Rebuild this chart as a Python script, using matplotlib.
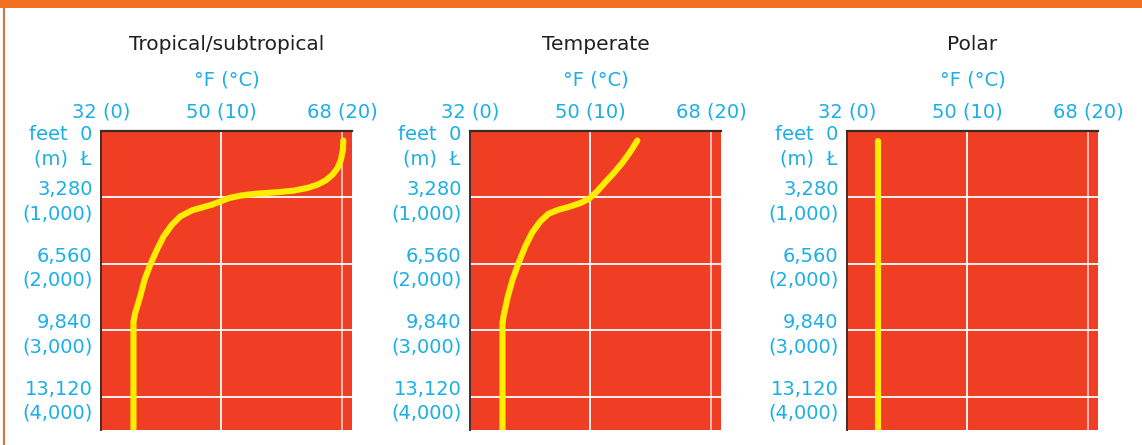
import matplotlib
matplotlib.use("Agg")
import matplotlib.pyplot as plt
from matplotlib.patches import Rectangle
from matplotlib.lines import Line2D
import matplotlib.transforms as mtransforms

# === Data (temperature in °F vs depth in metres) ===
panel_titles = ["Tropical/subtropical", "Temperate", "Polar"]

tropical_depth_m = [143, 279, 430, 555, 656, 742, 807, 857, 897, 917, 932, 947, 970, 1007,
                    1108, 1194, 1285, 1410, 1586, 1787, 2013, 2239, 2491, 2742, 2873, 4500]
tropical_temp_f = [68.2, 68.15, 67.85, 67.35, 66.6, 65.6, 64.35, 62.85, 60.85, 58.85, 56.85,
                   54.85, 53.0, 51.2, 48.6, 45.6, 43.85, 42.6, 41.35, 40.35, 39.35, 38.5,
                   37.85, 37.1, 36.85, 36.85]

temperate_depth_m = [143, 305, 480, 630, 766, 908, 1018, 1080, 1143, 1184, 1244, 1360, 1535,
                     1737, 1988, 2239, 2491, 2793, 2900, 4500]
temperate_temp_f = [57.0, 56.0, 54.75, 53.5, 52.25, 51.0, 49.8, 48.6, 46.75, 45.25, 43.75,
                    42.5, 41.25, 40.25, 39.25, 38.35, 37.65, 37.0, 36.85, 36.85]

polar_depth_m = [143, 4500]
polar_temp_f = [36.7, 36.7]

x_ticks = [32, 50, 68]
x_labels = ["32 (0)", "50 (10)", "68 (20)"]
y_ticks = [1000, 2000, 3000, 4000]
y_labels = ["3,280\n(1,000)", "6,560\n(2,000)", "9,840\n(3,000)", "13,120\n(4,000)"]

profiles = [(tropical_temp_f, tropical_depth_m),
            (temperate_temp_f, temperate_depth_m),
            (polar_temp_f, polar_depth_m)]

# === Style ===
FACE = "#EF3E24"
YELLOW = "#FFED00"
BLUE = "#1AAFE6"
DARK = "#231F20"
plt.rcParams['font.family'] = ['DejaVu Sans']

fig = plt.figure(figsize=(11.42, 4.45), dpi=100)

# orange header band and left frame line
fig.add_artist(Rectangle((0, 1 - 8 / 445), 1, 8 / 445, transform=fig.transFigure,
                         facecolor="#F37021", edgecolor="none"))
fig.add_artist(Line2D([4 / 1142, 4 / 1142], [0, 1 - 8 / 445], transform=fig.transFigure,
                      color="#C97A48", linewidth=1.6))

lefts = [101 / 1142, 470 / 1142, 847 / 1142]
width = 251 / 1142
bottom = 15 / 445
height = 299 / 445

for left, title, (temps, depths) in zip(lefts, panel_titles, profiles):
    ax = fig.add_axes([left, bottom, width, height])
    ax.set_facecolor(FACE)
    ax.set_xlim(32, 69.5)
    ax.set_ylim(4500, 0)

    # grid
    for y in y_ticks:
        ax.axhline(y, color="white", linewidth=1.3, zorder=1)
    ax.axvline(50, color="white", linewidth=1.3, zorder=1)
    ax.axvline(68, color="white", linewidth=1.3, alpha=0.7, zorder=1)

    ax.plot(temps, depths, color=YELLOW, linewidth=4.4,
            solid_capstyle="round", solid_joinstyle="round", zorder=3)

    ax.xaxis.tick_top()
    ax.set_xticks(x_ticks)
    ax.set_xticklabels(x_labels, color=BLUE, fontsize=14)
    ax.set_yticks(y_ticks)
    ax.set_yticklabels(y_labels, color=BLUE, fontsize=14, linespacing=1.33)
    ax.tick_params(axis="x", length=0, pad=7)
    ax.tick_params(axis="y", length=0, pad=6)

    for side in ["right", "bottom"]:
        ax.spines[side].set_visible(False)
    ax.spines["top"].set_color("#3A2A22")
    ax.spines["top"].set_linewidth(1.6)
    ax.spines["left"].set_color("#4A2A22")
    ax.spines["left"].set_linewidth(1.4)

    trans = mtransforms.blended_transform_factory(ax.transAxes, ax.transData)
    ax.text(-0.036, 234, "feet  0\n(m)  Ł", transform=trans, ha="right", va="center",
            color=BLUE, fontsize=14, linespacing=1.33)

    ax.text(0.5, 1.288, title, transform=ax.transAxes, ha="center", va="center",
            color=DARK, fontsize=14.5)
    ax.text(0.5, 1.171, "°F (°C)", transform=ax.transAxes, ha="center", va="center",
            color=BLUE, fontsize=14)

plt.savefig("out.png", dpi=100)
